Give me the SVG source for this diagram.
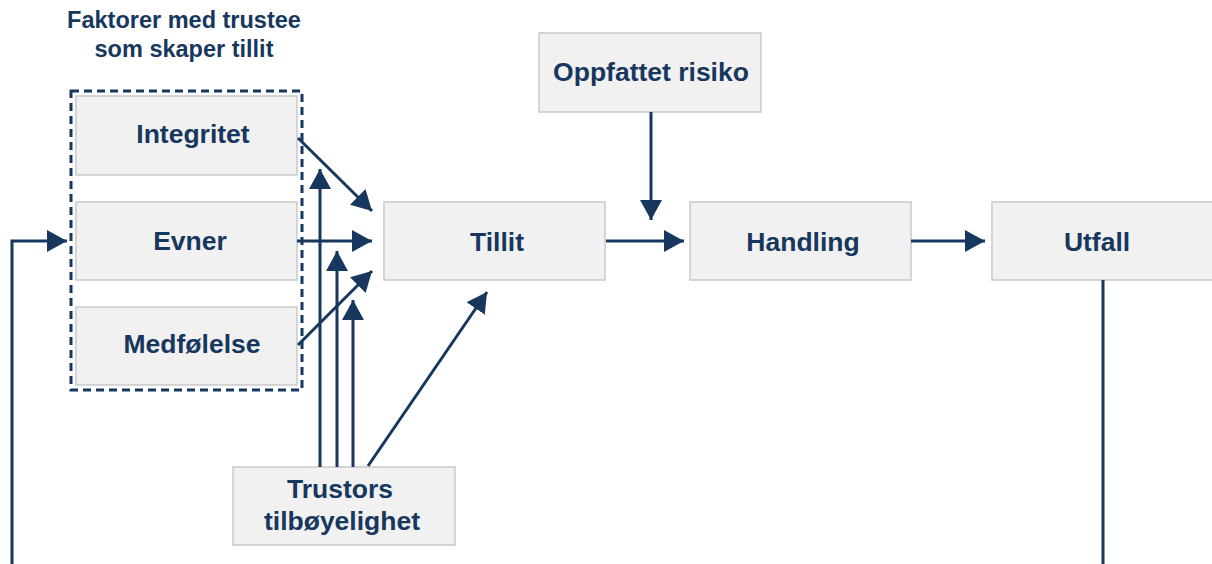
<svg xmlns="http://www.w3.org/2000/svg" width="1212" height="564" viewBox="0 0 1212 564">
  <style>
    .box { fill: #F1F1F1; stroke: #C9C9C9; stroke-width: 1.5; }
    .lbl { font-family: "Liberation Sans", Arial, sans-serif; font-weight: bold; font-size: 26.5px; fill: #17375E; text-anchor: middle; }
    .title { font-family: "Liberation Sans", Arial, sans-serif; font-weight: bold; font-size: 23.5px; fill: #17375E; text-anchor: middle; }
    .conn { stroke: #17375E; stroke-width: 3; fill: none; }
    .arr { marker-end: url(#head); }
  </style>
  <defs>
    <marker id="head" markerUnits="userSpaceOnUse" markerWidth="20" markerHeight="22" refX="20" refY="11" orient="auto">
      <path d="M0,0 L20,11 L0,22 Z" fill="#17375E"/>
    </marker>
  </defs>

  <rect width="1212" height="564" fill="#FFFFFF"/>

  <!-- group heading and dashed frame -->
  <g id="trustee-factors">
    <text class="title" x="184" y="28">Faktorer med trustee</text>
    <text class="title" x="184" y="57">som skaper tillit</text>
    <rect x="71" y="91" width="231" height="299" fill="none" stroke="#17375E" stroke-width="3" stroke-dasharray="8,5"/>
  </g>

  <g id="integritet">
    <rect class="box" x="76" y="96" width="221" height="79"/>
    <text class="lbl" x="193" y="143">Integritet</text>
  </g>
  <g id="evner">
    <rect class="box" x="76" y="202" width="221" height="78"/>
    <text class="lbl" x="190" y="250">Evner</text>
  </g>
  <g id="medfolelse">
    <rect class="box" x="76" y="307" width="221" height="78"/>
    <text class="lbl" x="192" y="353">Medfølelse</text>
  </g>
  <g id="tillit">
    <rect class="box" x="384" y="202" width="221" height="78"/>
    <text class="lbl" x="497" y="251">Tillit</text>
  </g>
  <g id="oppfattet-risiko">
    <rect class="box" x="539" y="33" width="222" height="79"/>
    <text class="lbl" x="651" y="81">Oppfattet risiko</text>
  </g>
  <g id="handling">
    <rect class="box" x="690" y="202" width="221" height="78"/>
    <text class="lbl" x="803" y="251">Handling</text>
  </g>
  <g id="utfall">
    <rect class="box" x="992" y="202" width="221" height="78"/>
    <text class="lbl" x="1097" y="251">Utfall</text>
  </g>
  <g id="trustors">
    <rect class="box" x="233" y="467" width="222" height="78"/>
    <text class="lbl" x="340" y="498">Trustors</text>
    <text class="lbl" x="342" y="530">tilbøyelighet</text>
  </g>

  <g id="connectors">
    <line class="conn arr" x1="298" y1="138" x2="372" y2="211"/>
    <line class="conn arr" x1="297" y1="241" x2="372" y2="241"/>
    <line class="conn arr" x1="298" y1="345" x2="372" y2="271"/>
    <line class="conn arr" x1="320" y1="467" x2="320" y2="169"/>
    <line class="conn arr" x1="337" y1="467" x2="337" y2="251"/>
    <line class="conn arr" x1="353" y1="467" x2="353" y2="300"/>
    <line class="conn arr" x1="368" y1="466" x2="487" y2="292"/>
    <line class="conn arr" x1="606" y1="241" x2="684" y2="241"/>
    <line class="conn arr" x1="651" y1="112" x2="651" y2="220"/>
    <line class="conn arr" x1="911" y1="241" x2="985" y2="241"/>
    <line class="conn" x1="1103" y1="280" x2="1103" y2="564"/>
    <polyline class="conn arr" points="12,564 12,241 67,241"/>
  </g>
</svg>
